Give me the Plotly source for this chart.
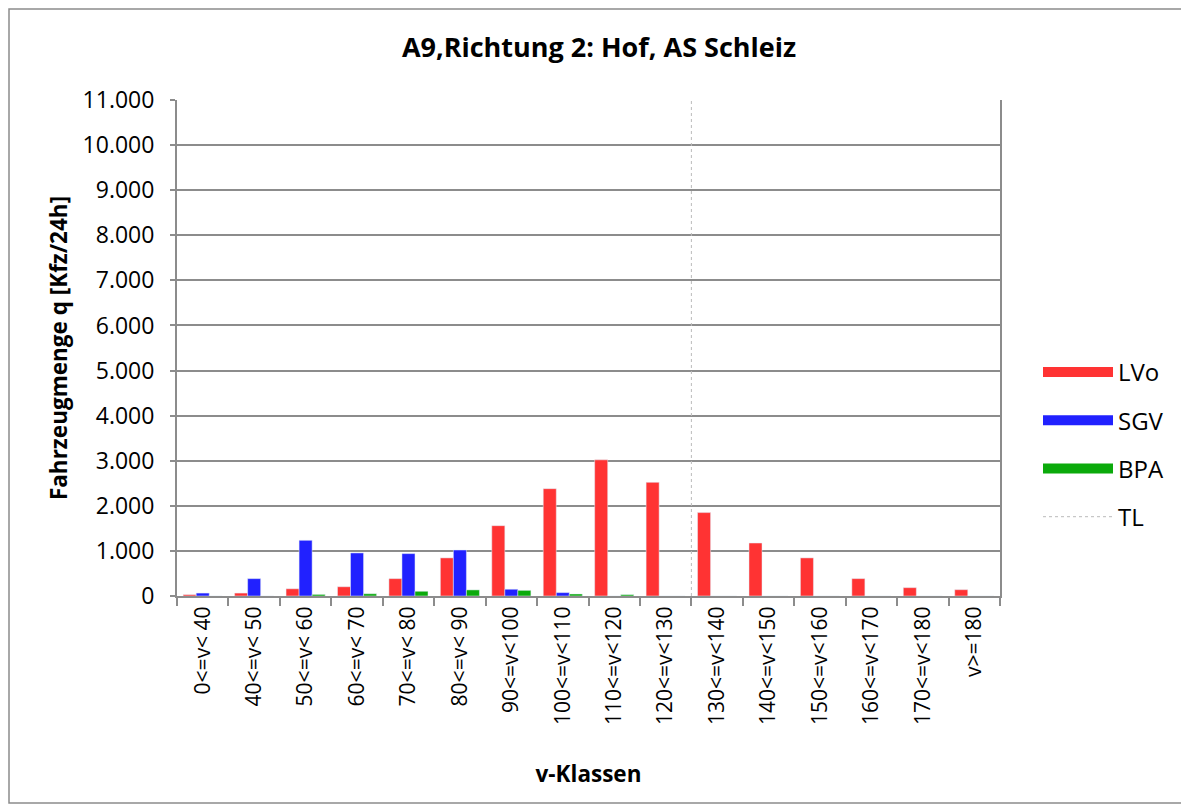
import plotly.graph_objects as go

categories = ["0<=v< 40", "40<=v< 50", "50<=v< 60", "60<=v< 70", "70<=v< 80",
              "80<=v< 90", "90<=v<100", "100<=v<110", "110<=v<120", "120<=v<130",
              "130<=v<140", "140<=v<150", "150<=v<160", "160<=v<170", "170<=v<180", "v>=180"]
lvo = [30, 65, 160, 205, 385, 845, 1560, 2380, 3020, 2520, 1850, 1175, 845, 385, 185, 140]
sgv = [65, 385, 1235, 955, 940, 1020, 150, 75, 0, 0, 0, 0, 0, 0, 0, 0]
bpa = [0, 0, 35, 50, 105, 135, 125, 45, 30, 0, 0, 0, 0, 0, 0, 0]
tl_x = [9.5, 9.5]
tl_y = [0, 11000]

# page has an 8px body margin; figure coordinates = reference coordinates - 8
OFF = 8
W, H = 1177, 796
L, R, T, B = 177 - OFF, 1000 - OFF, 100 - OFF, 596 - OFF

FONT = "'Open Sans', sans-serif"
RED, BLUE, GREEN = "#FF3333", "#2121FF", "#0BAA0B"

fig = go.Figure()
for name, vals, col in [("LVo", lvo, RED), ("SGV", sgv, BLUE), ("BPA", bpa, GREEN)]:
    fig.add_trace(go.Bar(name=name, x=categories, y=vals, marker_color=col,
                         showlegend=False))
# legend entries drawn as wide colour swatches
for i, (name, col) in enumerate([("LVo", RED), ("SGV", BLUE), ("BPA", GREEN)]):
    fig.add_trace(go.Scatter(name=name, x=[None], y=[None], mode="lines", xaxis="x2",
                             line=dict(color=col, width=17), legendgroup=str(i)))
fig.add_trace(go.Scatter(name="TL", x=tl_x, y=tl_y, mode="lines", xaxis="x2",
                         line=dict(color="#BBBBBB", width=1, dash="dot"),
                         legendgroup="3"))

pw = R - L
ph = B - T
def px(x):
    return (x - OFF - L) / pw
def py(y):
    return (B - (y - OFF)) / ph

fig.update_layout(
    width=W, height=H,
    margin=dict(l=L, r=W - R, t=T, b=H - B, pad=0, autoexpand=False),
    paper_bgcolor="white", plot_bgcolor="white",
    separators=",.",
    font=dict(family=FONT, size=21, color="black"),
    title=dict(text="<b>A9,Richtung 2: Hof, AS Schleiz</b>", x=px(599), xref="paper",
               xanchor="center", y=1 - (48 - OFF) / H, yanchor="middle",
               font=dict(size=27, family=FONT)),
    barmode="group", bargap=0.24, bargroupgap=0,
    showlegend=True,
    legend=dict(x=px(1038), y=py(350), xanchor="left", yanchor="top",
                font=dict(size=24, family=FONT), traceorder="grouped",
                tracegroupgap=14, bgcolor="rgba(0,0,0,0)", itemwidth=70),
    xaxis=dict(type="category", showgrid=False, showline=True, linecolor="#8C8C8C",
               linewidth=2, ticks="outside", ticklen=8, tickcolor="#8C8C8C", tickwidth=2,
               tickson="boundaries", tickangle=-90, tickfont=dict(size=21),
               title=dict(text="<b>v-Klassen</b>", font=dict(size=22.5), standoff=42),
               range=[-0.5, 15.5]),
    xaxis2=dict(overlaying="x", range=[-0.5, 15.5], visible=False, showgrid=False),
    yaxis=dict(range=[0, 11000], dtick=1000, tickformat=",d", showgrid=True,
               gridcolor="#8C8C8C", gridwidth=2, showline=True, linecolor="#8C8C8C",
               linewidth=2, mirror=True, ticks="outside", ticklen=5,
               tickcolor="#8C8C8C", tickwidth=2, tickfont=dict(size=23),
               ticklabelstandoff=11, zeroline=False,
               title=dict(text="<b>Fahrzeugmenge q [Kfz/24h]</b>", font=dict(size=22.5),
                          standoff=9)),
    shapes=[dict(type="rect", xref="paper", yref="paper",
                 x0=-L / pw + 1 / pw, x1=(W - L - 1) / pw,
                 y0=-(H - B - 1) / ph, y1=(B - 1) / ph,
                 line=dict(color="#8C8C8C", width=1.5), fillcolor="rgba(0,0,0,0)",
                 layer="below")],
)

fig.write_html("out.html")
